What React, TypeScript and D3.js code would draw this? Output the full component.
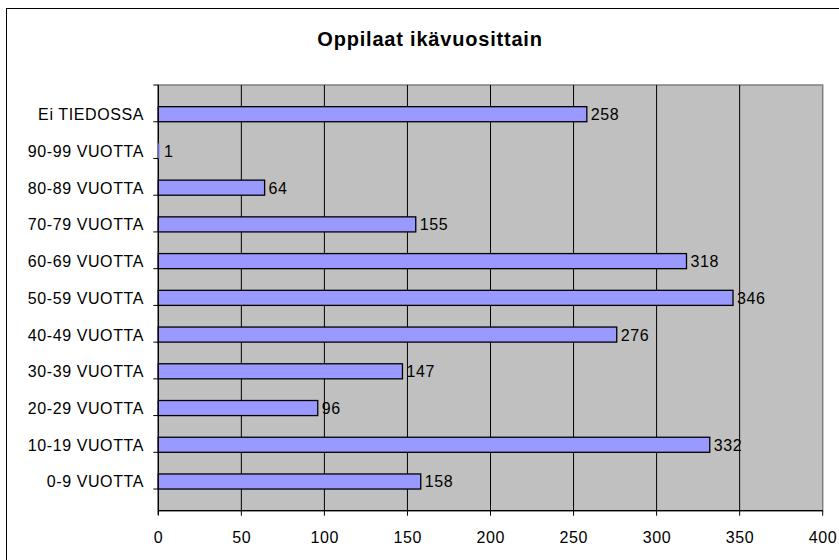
import * as d3 from "d3";

const categories = [
  "0-9 VUOTTA",
  "10-19 VUOTTA",
  "20-29 VUOTTA",
  "30-39 VUOTTA",
  "40-49 VUOTTA",
  "50-59 VUOTTA",
  "60-69 VUOTTA",
  "70-79 VUOTTA",
  "80-89 VUOTTA",
  "90-99 VUOTTA",
  "Ei TIEDOSSA",
];
const values = [158, 332, 96, 147, 276, 346, 318, 155, 64, 1, 258];
const xTicks = [0, 50, 100, 150, 200, 250, 300, 350, 400];

export default function App() {
  const width = 839;
  const height = 560;
  const left = 158.3;
  const right = 822.7;
  const top = 85;
  const bottom = 510.7;

  const x = d3.scaleLinear().domain([0, 400]).range([left, right]);
  // categories go bottom-up like Excel
  const y = d3
    .scaleBand<string>()
    .domain([...categories].reverse())
    .range([top, bottom])
    .padding(0.59);
  const step = y.step();
  const font = "Arial, 'Liberation Sans', sans-serif";
  const fs = 16;
  const ls = 0.6;

  return (
    <svg
      width={width}
      height={height}
      style={{ position: "absolute", left: 0, top: 0, background: "#fff" }}
      fontFamily={font}
    >
      {/* chart frame */}
      <rect x={6.5} y={8.5} width={900} height={900} fill="#fff" stroke="#000" strokeWidth={1} />

      <text x={430} y={45.7} textAnchor="middle" fontSize={20} fontWeight="bold" letterSpacing={0.8} fill="#000">
        Oppilaat ikävuosittain
      </text>

      {/* plot area */}
      <rect x={left} y={top} width={right - left} height={bottom - top} fill="#C0C0C0" stroke="#808080" strokeWidth={1.5} />

      {xTicks
        .filter((t) => t > 0 && t < 400)
        .map((t) => (
          <line key={t} x1={x(t)} x2={x(t)} y1={top} y2={bottom} stroke="#000" strokeWidth={1} />
        ))}

      {/* y axis */}
      <line x1={left} x2={left} y1={top} y2={bottom + 4} stroke="#000" strokeWidth={1.3} />
      {d3.range(categories.length + 1).map((i) => (
        <line key={i} x1={left - 5} x2={left} y1={top + i * step} y2={top + i * step} stroke="#000" strokeWidth={1} />
      ))}

      {/* x axis */}
      <line x1={left} x2={right} y1={bottom} y2={bottom} stroke="#000" strokeWidth={1.3} />
      {xTicks.map((t) => (
        <g key={t}>
          <line x1={x(t)} x2={x(t)} y1={bottom} y2={bottom + 5} stroke="#000" strokeWidth={1} />
          <text x={x(t) + ls / 2} y={543.3} textAnchor="middle" fontSize={fs} letterSpacing={ls} fill="#000">
            {t}
          </text>
        </g>
      ))}

      {categories.map((c, i) => {
        const by = y(c)!;
        const cy = by + y.bandwidth() / 2;
        const v = values[i];
        const w = x(v) - x(0);
        return (
          <g key={c}>
            <text x={144} y={cy + 6} textAnchor="end" fontSize={fs} letterSpacing={ls} fill="#000">
              {c}
            </text>
            <rect
              x={x(0)}
              y={by}
              width={w}
              height={y.bandwidth()}
              fill="#9999FF"
              stroke={w > 3 ? "#000" : "none"}
              strokeWidth={1.3}
            />
            <text x={x(v) + 4} y={cy + 6} fontSize={fs} letterSpacing={ls} fill="#000">
              {v}
            </text>
          </g>
        );
      })}
    </svg>
  );
}
